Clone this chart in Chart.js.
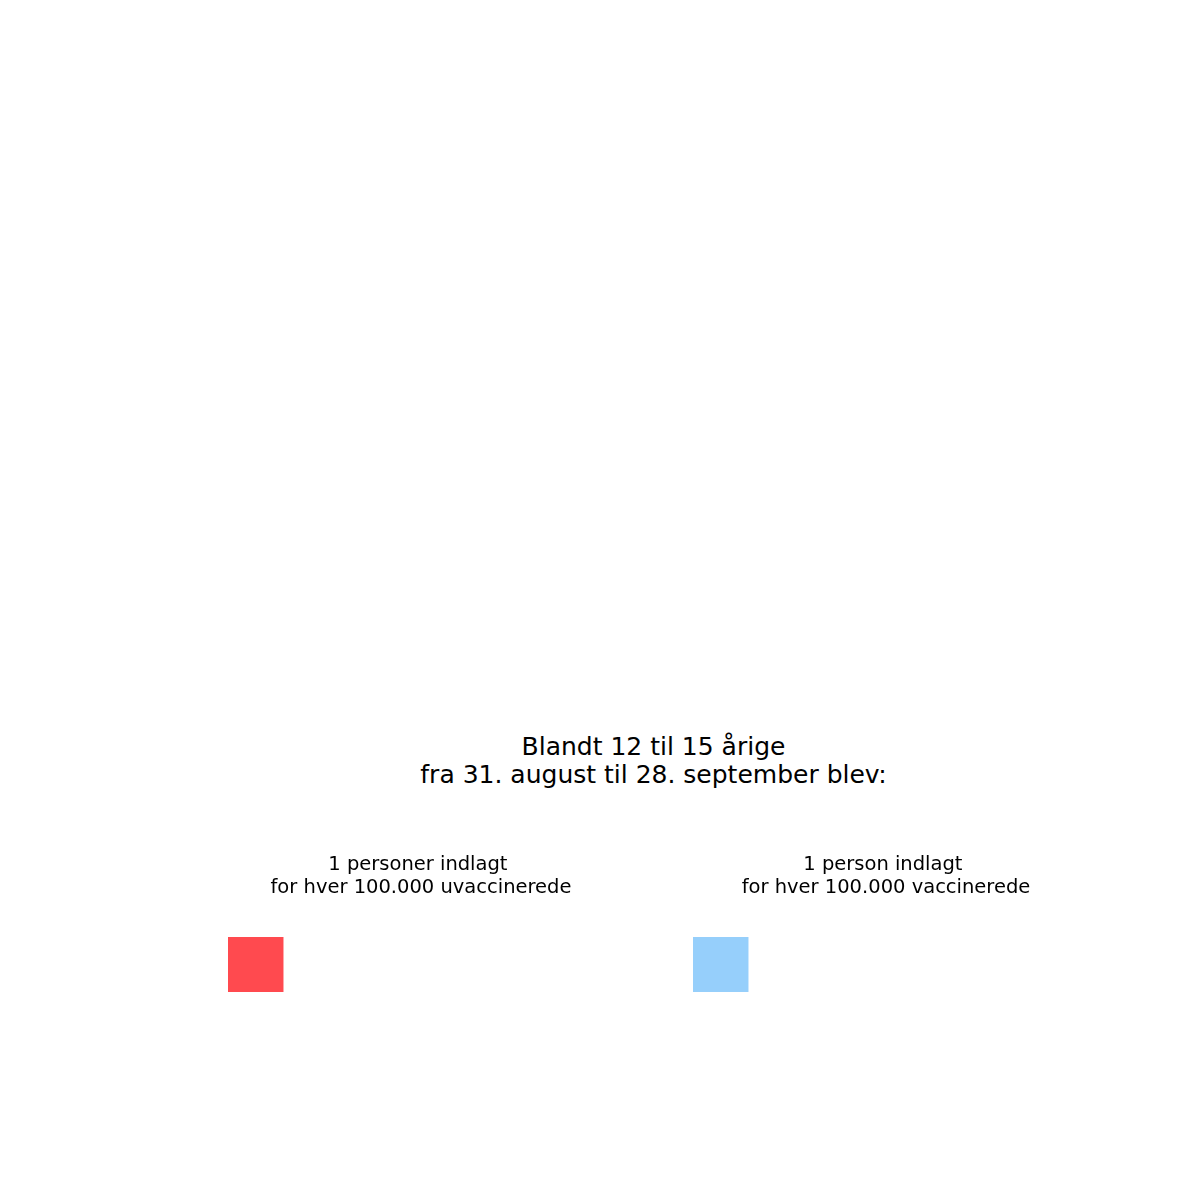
<!DOCTYPE html>
<html>
<head>
<meta charset="utf-8">
<script src="https://cdn.jsdelivr.net/npm/chart.js@4"></script>
<style>
  html, body { margin: 0; padding: 0; background: #ffffff; }
  #page { position: relative; width: 1200px; height: 1200px; overflow: hidden; }
  #mainTitle { position: absolute; left: 228px; width: 851px; top: 733px; text-align: center;
    font-family: "DejaVu Sans", sans-serif; font-size: 25px; line-height: 28px; color: #000; }
  .panel { position: absolute; }
</style>
</head>
<body>
<div id="page">
  <div id="mainTitle"></div>
  <div class="panel" style="left:228px; top:853px; width:386px; height:139px;"><canvas id="c0" width="386" height="139"></canvas></div>
  <div class="panel" style="left:693px; top:853px; width:386px; height:139px;"><canvas id="c1" width="386" height="139"></canvas></div>
</div>
<script>
// ---- data ----
const titleLines = ['Blandt 12 til 15 årige', 'fra 31. august til 28. september blev:'];
const groups = ['uvaccinerede', 'vaccinerede'];
const hospitalisedPer100k = [1, 1];
const subtitleLines = [
  ['1 personer indlagt ', 'for hver 100.000 uvaccinerede'],
  ['1 person indlagt ', 'for hver 100.000 vaccinerede']
];
const gridColumns = ['1', '2', '3', '4', '5', '6', '7'];
const groupColors = ['#FF4A4F', '#96CFFB'];

// ---- render ----
document.getElementById('mainTitle').innerHTML = titleLines.join('<br>');

groups.forEach((g, gi) => {
  const cells = gridColumns.map((_, i) => (i < hospitalisedPer100k[gi] ? 1 : null));
  new Chart(document.getElementById('c' + gi), {
    type: 'bar',
    data: {
      labels: gridColumns,
      datasets: [{
        label: g,
        data: cells,
        backgroundColor: groupColors[gi],
        borderWidth: 0,
        barPercentage: 1,
        categoryPercentage: 1
      }]
    },
    options: {
      responsive: false,
      animation: false,
      devicePixelRatio: 1,
      layout: { padding: 0 },
      plugins: {
        legend: { display: false },
        tooltip: { enabled: false },
        title: {
          display: true,
          text: subtitleLines[gi],
          color: '#000000',
          font: { family: 'DejaVu Sans', size: 19.5, weight: 'normal', lineHeight: 1.2 },
          padding: { top: 0, bottom: 37.2 }
        }
      },
      scales: {
        x: { display: false, grid: { display: false } },
        y: { display: false, min: 0, max: 1, grid: { display: false } }
      }
    }
  });
});
</script>
</body>
</html>
